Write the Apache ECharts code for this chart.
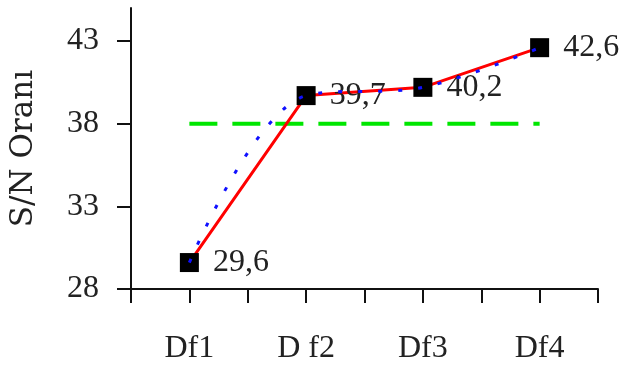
<!DOCTYPE html>
<html>
<head>
<meta charset="utf-8">
<script src="https://cdn.jsdelivr.net/npm/echarts@6/dist/echarts.min.js"></script>
<style>html,body{margin:0;padding:0;background:#fff}#c{width:625px;height:365px}</style>
</head>
<body>
<div id="c"></div>
<script>
var categories = ['Df1', 'D f2', 'Df3', 'Df4'];
var snValues = [29.6, 39.7, 40.2, 42.6];
var meanLine = [38, 38, 38, 38];
var yTicks = [28, 33, 38, 43];
var yName = 'S/N Oranı';

var FONT = 'Liberation Serif';
var chart = echarts.init(document.getElementById('c'), null, {renderer: 'canvas'});
chart.setOption({
  animation: false,
  backgroundColor: '#ffffff',
  grid: {left: 130, right: 27, top: 8, bottom: 75},
  xAxis: [{
    type: 'category',
    data: categories,
    boundaryGap: true,
    axisLine: {lineStyle: {color: '#111', width: 2}},
    axisTick: {show: true, interval: 0, length: 14, lineStyle: {color: '#111', width: 2}},
    axisLabel: {margin: 44, fontFamily: FONT, fontSize: 32, color: '#222', interval: 0},
    splitLine: {show: false}
  }, {
    type: 'category',
    data: categories,
    position: 'bottom',
    boundaryGap: true,
    axisLine: {show: false},
    axisTick: {show: true, alignWithLabel: true, interval: 0, length: 14, lineStyle: {color: '#111', width: 2}},
    axisLabel: {show: false},
    splitLine: {show: false}
  }],
  yAxis: {
    type: 'value',
    min: 28, max: 45,
    name: yName,
    nameLocation: 'middle',
    nameGap: 92,
    nameTextStyle: {fontFamily: 'DejaVu Serif', fontSize: 31, color: '#222'},
    axisLine: {show: true, lineStyle: {color: '#111', width: 2}},
    axisTick: {show: true, length: 14, customValues: yTicks, lineStyle: {color: '#111', width: 2}},
    axisLabel: {margin: 32, fontFamily: FONT, fontSize: 32, color: '#222', customValues: yTicks},
    splitLine: {show: false}
  },
  series: [{
    type: 'line',
    data: meanLine,
    symbol: 'none',
    lineStyle: {color: '#00e600', width: 4, type: [28, 15]},
    z: 1
  }, {
    type: 'line',
    data: snValues,
    symbol: 'rect',
    symbolSize: 19,
    itemStyle: {color: '#000'},
    lineStyle: {color: '#ff0000', width: 3},
    label: {
      show: true, position: 'right', distance: 14,
      fontFamily: FONT, fontSize: 32, color: '#222',
      formatter: function (p) { return String(p.value.toFixed(1)).replace('.', ','); }
    },
    z: 2
  }, {
    type: 'line',
    data: snValues,
    smooth: 0.35,
    symbol: 'none',
    lineStyle: {color: '#1010ff', width: 3, type: [4, 16]},
    z: 3
  }]
});
</script>
</body>
</html>
